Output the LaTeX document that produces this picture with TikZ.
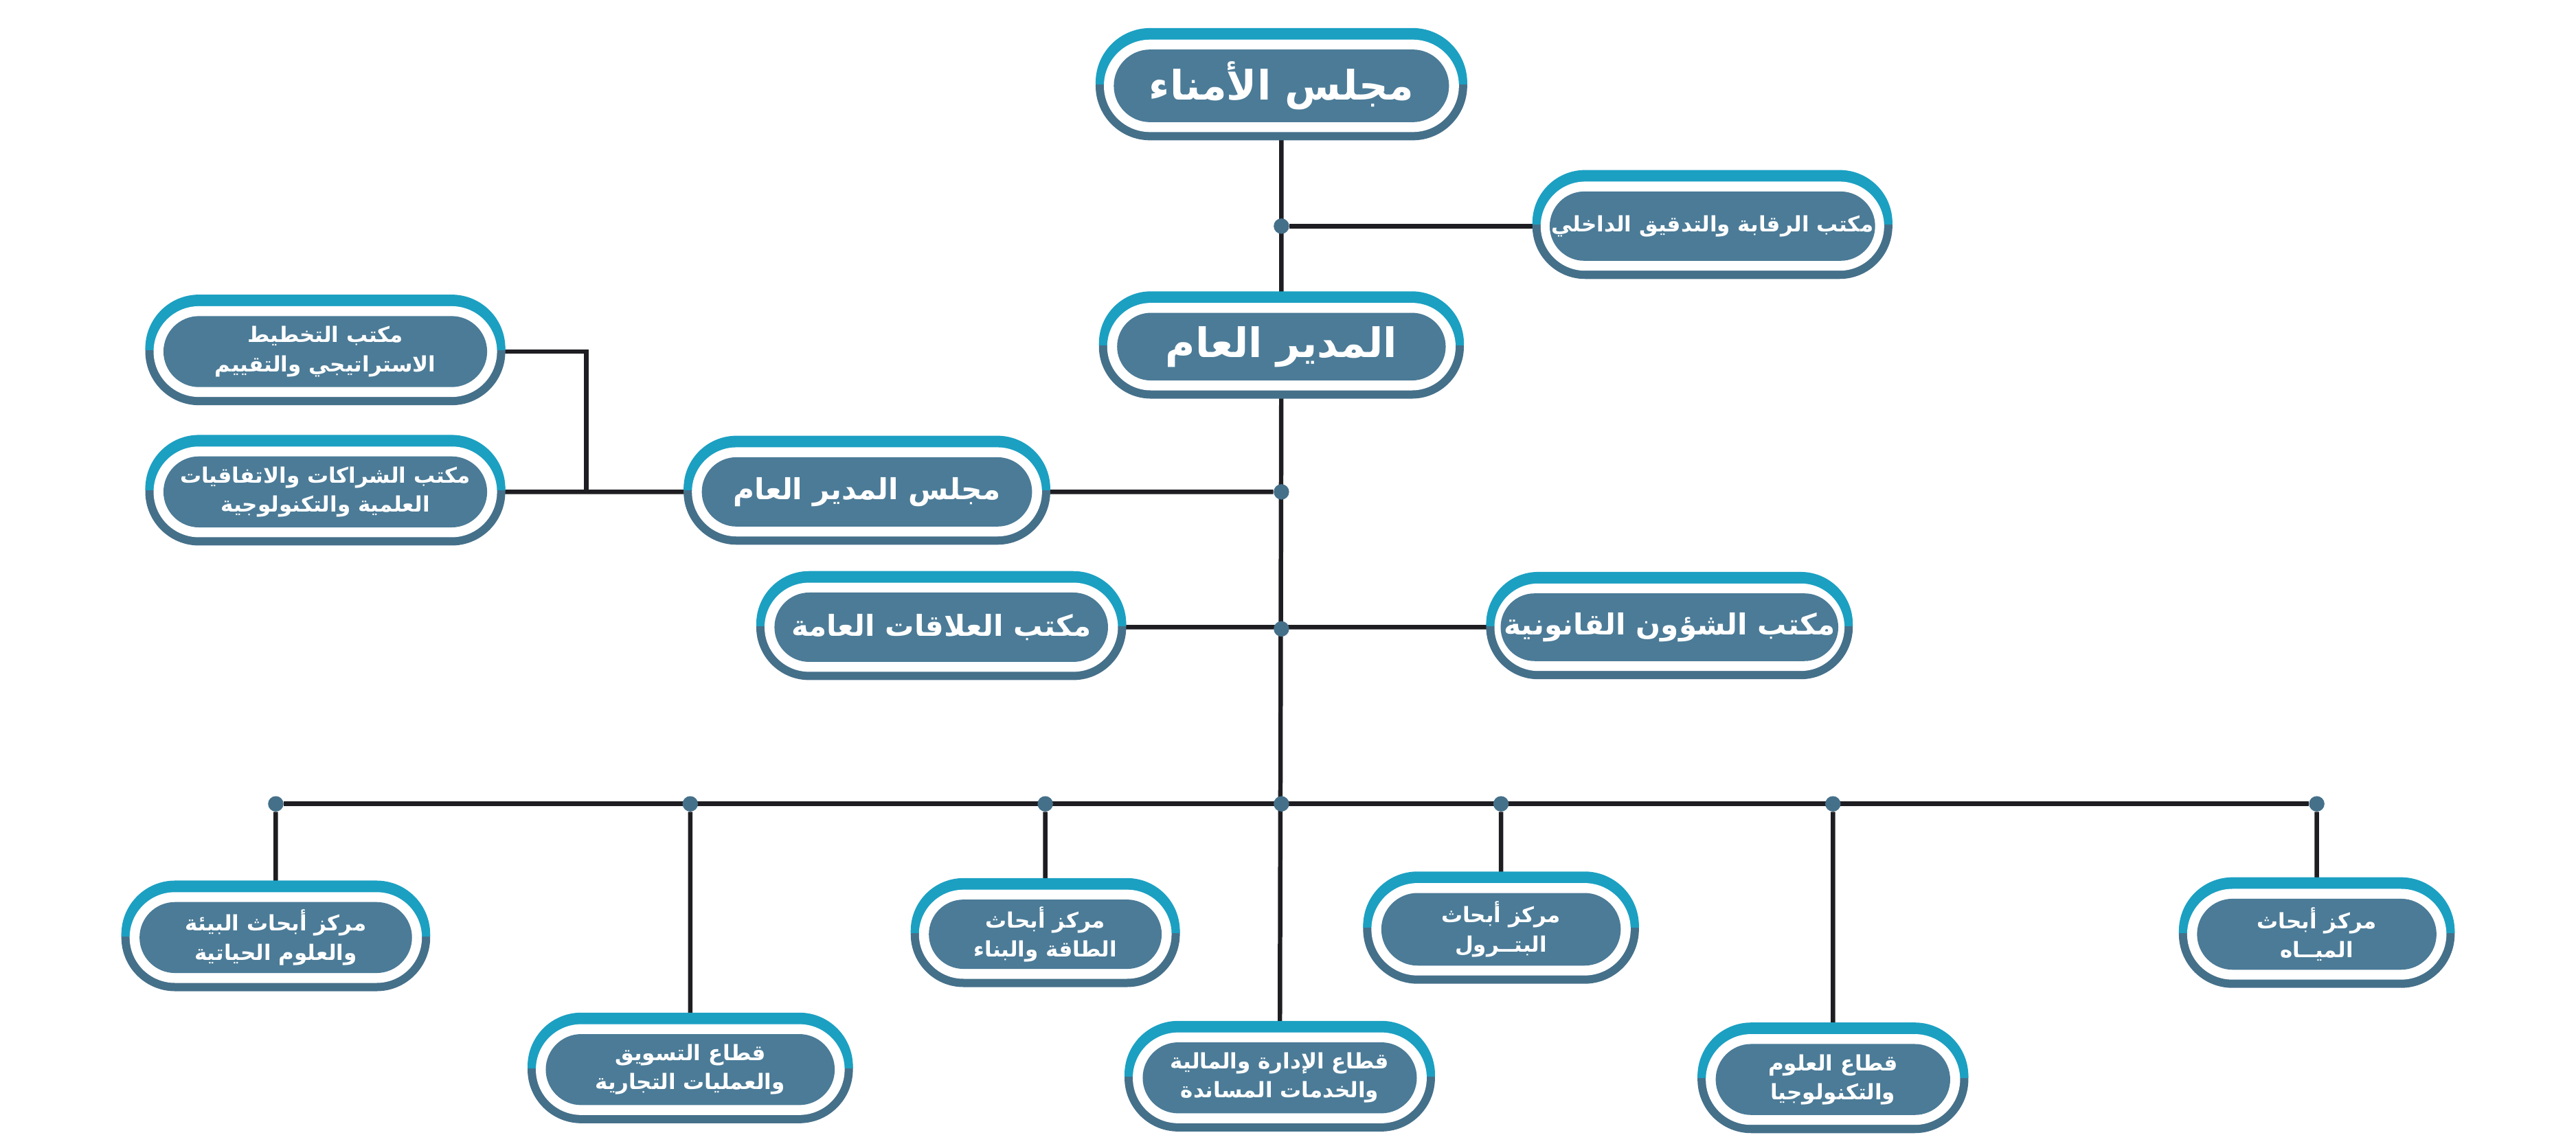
\documentclass[tikz,border=0pt]{standalone}
\usepackage{fontspec}
\usetikzlibrary{positioning,shapes.misc,backgrounds}
\TeXXeTstate=1
\newfontfamily\arabicfont[Script=Arabic]{DejaVu Sans}
\definecolor{boxfill}{HTML}{4B7B97}
\definecolor{ringtop}{HTML}{1BA0C2}
\definecolor{ringlow}{HTML}{45708A}
\definecolor{linecol}{HTML}{1E1E22}
\newcommand\ar[1]{{\arabicfont\bfseries\beginR #1\endR}}
\tikzset{
  pill/.style   = {rounded rectangle, inner sep=0pt, draw=none},
  innerbox/.style = {pill, fill=boxfill, text=white, align=center},
  bigtxt/.style = {font=\fontsize{21}{25}\selectfont},
  midtxt/.style = {font=\fontsize{15}{19}\selectfont},
  smalltxt/.style = {font=\fontsize{11}{15}\selectfont},
  jdot/.style   = {circle, fill=ringlow, minimum size=0.28cm, inner sep=0pt},
  conn/.style   = {draw=linecol, line width=2.3pt}
}
% name, x, y, w, h, text style, text
\newcommand\orgbox[7]{%
  \node[pill, fill=ringlow, minimum width=#4*0.03cm, minimum height=#5*0.03cm] at (#2,#3) {};
  \begin{scope}
    \clip (#2-#4/2-2,#3-#5/2-2) rectangle (#2+#4/2+2,#3-1);
    \node[pill, fill=ringtop, minimum width=#4*0.03cm, minimum height=#5*0.03cm] at (#2,#3-2) {};
  \end{scope}
  \node[pill, fill=white, minimum width=(#4-10)*0.03cm, minimum height=(#5-10)*0.03cm] at (#2,#3) {};
  \node[innerbox, #6, minimum width=(#4-22)*0.03cm, minimum height=(#5-22)*0.03cm] (#1) at (#2,#3) {#7};
}

\begin{document}
\begin{tikzpicture}[x=0.03cm,y=-0.03cm]
\useasboundingbox (0,0) rectangle (1560,694);

% -------------------- Boxes --------------------
\orgbox{trustees}{776}{52}{225}{66}{bigtxt}{\ar{مجلس الأمناء}}
\orgbox{audit}{1037}{137}{218}{64}{smalltxt}{\ar{مكتب الرقابة والتدقيق الداخلي}}
\orgbox{gm}{776}{210}{221}{63}{bigtxt}{\ar{المدير العام}}
\orgbox{plan}{197}{213}{218}{65}{smalltxt}{\ar{مكتب التخطيط}\\\ar{الاستراتيجي والتقييم}}
\orgbox{partner}{197}{298}{218}{65}{smalltxt}{\ar{مكتب الشراكات والاتفاقيات}\\\ar{العلمية والتكنولوجية}}
\orgbox{council}{525}{298}{222}{64}{midtxt}{\ar{مجلس المدير العام}}
\orgbox{pr}{570}{380}{224}{64}{midtxt}{\ar{مكتب العلاقات العامة}}
\orgbox{legal}{1011}{380}{222}{63}{midtxt}{\ar{مكتب الشؤون القانونية}}

\orgbox{env}{167}{568}{187}{65}{smalltxt}{\ar{مركز أبحاث البيئة}\\\ar{والعلوم الحياتية}}
\orgbox{market}{418}{648}{197}{65}{smalltxt}{\ar{قطاع التسويق}\\\ar{والعمليات التجارية}}
\orgbox{energy}{633}{566}{163}{64}{smalltxt}{\ar{مركز أبحاث}\\\ar{الطاقة والبناء}}
\orgbox{admin}{775}{653}{188}{65}{smalltxt}{\ar{قطاع الإدارة والمالية}\\\ar{والخدمات المساندة}}
\orgbox{petrol}{909}{563}{167}{66}{smalltxt}{\ar{مركز أبحاث}\\\ar{البتــرول}}
\orgbox{science}{1110}{654}{164}{65}{smalltxt}{\ar{قطاع العلوم}\\\ar{والتكنولوجيا}}
\orgbox{water}{1403}{566}{167}{65}{smalltxt}{\ar{مركز أبحاث}\\\ar{الميــاه}}

% junction dots
\foreach \jname/\jx/\jy in {jaudit/776/137, jcouncil/776/298, joffice/776/381,
    jenv/167/487, jmarket/418/487, jenergy/633/487, jmid/776/487,
    jpetrol/909/487, jscience/1110/487, jwater/1403/487}{
  \node[jdot] (\jname) at (\jx,\jy) {};
}

% -------------------- Connections --------------------
\begin{scope}[on background layer]
  \coordinate (brk) at (355,298);
  \draw[conn] (trustees) -- (gm);
  \draw[conn] (gm) -- (admin);
  \draw[conn] (jaudit) -- (audit);
  \draw[conn] (jcouncil) -- (council) -- (partner);
  \draw[conn] (plan) -| (brk);
  \draw[conn] (pr) -- (legal);
  \draw[conn] (jenv) -- (jwater);
  \foreach \jname/\bname in {jenv/env, jmarket/market, jenergy/energy,
                             jpetrol/petrol, jscience/science, jwater/water}{
    \draw[conn] (\jname) -- (\bname);
  }
\end{scope}

\end{tikzpicture}
\end{document}
